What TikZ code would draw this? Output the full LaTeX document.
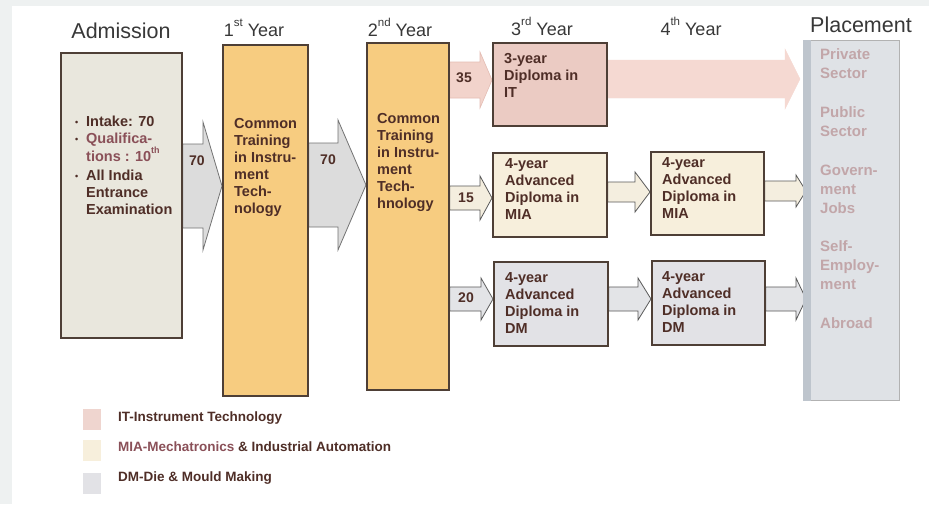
\documentclass[tikz,border=0pt]{standalone}
\usepackage{fontspec}
\setmainfont{Liberation Sans}
\usetikzlibrary{calc}

\definecolor{pageedge}{HTML}{EEF1F1}
\definecolor{boxline}{HTML}{4E3F36}
\definecolor{admfill}{HTML}{E9E7DD}
\definecolor{yearfill}{HTML}{F7CC80}
\definecolor{itfill}{HTML}{EBCBC3}
\definecolor{miafill}{HTML}{F7EFDC}
\definecolor{dmfill}{HTML}{E2E2E6}
\definecolor{plcfill}{HTML}{DFE2E6}
\definecolor{plcstrip}{HTML}{BEC5CD}
\definecolor{plcink}{HTML}{C2A6A9}
\definecolor{boxink}{HTML}{4F2E27}
\definecolor{softink}{HTML}{8A5058}
\definecolor{titleink}{HTML}{383838}
\definecolor{grayarrfill}{HTML}{DCDCDC}
\definecolor{itarrfill}{HTML}{F2D3CB}
\definecolor{itarrline}{HTML}{E4BDB4}
\definecolor{itbigfill}{HTML}{F5D9D2}
\definecolor{miaarrfill}{HTML}{F4EEDF}
\definecolor{dmarrfill}{HTML}{E3E4E7}

\pgfdeclarelayer{paper}
\pgfdeclarelayer{arrows}
\pgfsetlayers{paper,arrows,main}

% Block arrow from one anchor to another at height #4:
% #1 style, #2 start anchor, #3 tip anchor, #4 centre line,
% #5 shaft half-height, #6 head half-height, #7 head length
\newcommand\blockarrow[7]{%
  \coordinate (yc) at (0,#4);
  \draw[#1] ($(#2 |- yc)+(0,-#5)$) -- ($(#3 |- yc)+(-#7,-#5)$)
    -- ($(#3 |- yc)+(-#7,-#6)$) -- (#3 |- yc)
    -- ($(#3 |- yc)+(-#7,#6)$) -- ($(#3 |- yc)+(-#7,#5)$)
    -- ($(#2 |- yc)+(0,#5)$) -- cycle;}

\newcommand\itm{\makebox[11pt][l]{\raisebox{0.5pt}{\fontsize{9}{9}\selectfont\textbullet}}}
% raised ordinal suffix; optional argument is its size in pt
\newcommand\sups[2][9]{\raisebox{0.55em}{\fontsize{#1}{#1}\selectfont #2}}

\begin{document}
\begin{tikzpicture}[x=1pt,y=-1pt,
  box/.style={draw=boxline, line width=1.8pt, rectangle, inner sep=0pt, anchor=north west},
  boxtext/.style={font=\fontsize{14.5}{17}\selectfont\bfseries, text=boxink, align=left, anchor=west, inner sep=0pt},
  title/.style={font=\fontsize{18}{20}\selectfont, text=titleink, inner sep=0pt},
  bigtitle/.style={font=\fontsize{21.5}{24}\selectfont, text=titleink, inner sep=0pt},
  plctext/.style={font=\fontsize{15}{19}\selectfont\bfseries, text=plcink, align=left, anchor=west, inner sep=0pt},
  num/.style={font=\fontsize{14}{16}\selectfont\bfseries, text=boxink, inner sep=0pt},
  legsq/.style={rectangle, minimum width=18pt, minimum height=21pt, inner sep=0pt},
  legtext/.style={font=\fontsize{13.5}{16}\selectfont\bfseries, text=boxink, anchor=west, inner sep=0pt},
  grayarr/.style={fill=grayarrfill, draw=black!55, line width=0.8pt, line join=miter},
  itarr/.style={fill=itarrfill, draw=itarrline, line width=0.6pt},
  itbig/.style={fill=itbigfill, draw=itbigfill},
  miaarr/.style={fill=miaarrfill, draw=black!65, line width=0.8pt},
  dmarr/.style={fill=dmarrfill, draw=black!65, line width=0.8pt}
]
\useasboundingbox (0,0) rectangle (929,504);
\begin{pgfonlayer}{paper}
\fill[white] (0,0) rectangle (929,504);
\fill[pageedge] (0,0) rectangle (12,504);
\fill[pageedge] (0,0) rectangle (929,6);
\end{pgfonlayer}

% column headings
\node[bigtitle] (hadm) at (121,31) {Admission};
\node[title] (hy1) at (254,28) {1\sups[11.5]{st} Year};
\node[title] (hy2) at (400,27) {2\sups[11.5]{nd} Year};
\node[title] (hy3) at (542,26) {3\sups[11.5]{rd} Year};
\node[title] (hy4) at (691,26) {4\sups[11.5]{th} Year};
\node[bigtitle] (hplc) at (861,25) {Placement};

% boxes
\node[box, fill=admfill, minimum width=121pt, minimum height=285pt] (adm) at (60,52) {};
\node[box, fill=yearfill, minimum width=85pt, minimum height=351pt] (y1) at (222,44) {};
\node[box, fill=yearfill, minimum width=82pt, minimum height=347pt] (y2) at (366,42) {};
\node[box, fill=itfill, minimum width=114pt, minimum height=83pt] (it3) at (492,42) {};
\node[box, fill=miafill, minimum width=114pt, minimum height=84pt] (mia3) at (492,152) {};
\node[box, fill=miafill, minimum width=113pt, minimum height=83pt] (mia4) at (650,151) {};
\node[box, fill=dmfill, minimum width=114pt, minimum height=84pt] (dm3) at (493,261) {};
\node[box, fill=dmfill, minimum width=113pt, minimum height=84pt] (dm4) at (651,260) {};
\node[rectangle, anchor=north west, fill=plcfill, draw=black!30, line width=0.8pt,
      minimum width=96pt, minimum height=360pt, inner sep=0pt] (plc) at (803,40) {};
\fill[plcstrip] (plc.north west) rectangle ($(plc.south west)+(8,0)$);

\coordinate (plcend) at ($(plc.west)+(-3,0)$);
\coordinate (plcin) at ($(plc.west)+(3,0)$);

% connectors
\begin{pgfonlayer}{arrows}
\blockarrow{grayarr}{adm.east}{y1.west}{186}{42}{64}{19}
\blockarrow{grayarr}{y1.east}{y2.west}{185}{42}{65}{28}
\blockarrow{itarr}{y2.east}{it3.west}{80}{18}{28}{12}
\blockarrow{miaarr}{y2.east}{mia3.west}{198}{12}{22}{12}
\blockarrow{dmarr}{y2.east}{dm3.west}{299}{12}{21}{12}
\blockarrow{itbig}{it3.east}{plcend}{79}{19}{30}{15}
\blockarrow{miaarr}{mia3.east}{mia4.west}{192}{10}{20}{15}
\blockarrow{dmarr}{dm3.east}{dm4.west}{299}{12}{21}{13}
\blockarrow{miaarr}{mia4.east}{plcin}{191}{10}{16}{10}
\blockarrow{dmarr}{dm4.east}{plcin}{299}{12}{21}{10}
\end{pgfonlayer}

% flow numbers
\node[num] (n70a) at (197,161) {70};
\node[num] (n70b) at (328,160) {70};
\node[num] (n35) at (464,78) {35};
\node[num] (n15) at (466,198) {15};
\node[num] (n20) at (466,298) {20};

% box texts
\node[boxtext] (admtxt) at (75,165) {\itm Intake: 70\\
  \itm\textcolor{softink}{Qualifica-}\\
  \hphantom{\itm}\textcolor{softink}{tions : 10\sups{th}}\\[2pt]
  \itm All India\\
  \hphantom{\itm}Entrance\\
  \hphantom{\itm}Examination};
\node[boxtext] (y1txt) at (234,167) {Common\\Training\\in Instru-\\ment\\Tech-\\nology};
\node[boxtext] (y2txt) at (377,162) {Common\\Training\\in Instru-\\ment\\Tech-\\hnology};
\node[boxtext] (it3txt) at (504,75) {3-year\\Diploma in\\IT};
\node[boxtext] (mia3txt) at (505,189) {4-year\\Advanced\\Diploma in\\MIA};
\node[boxtext] (mia4txt) at (662,188) {4-year\\Advanced\\Diploma in\\MIA};
\node[boxtext] (dm3txt) at (505,303) {4-year\\Advanced\\Diploma in\\DM};
\node[boxtext] (dm4txt) at (662,302) {4-year\\Advanced\\Diploma in\\DM};

% placement destinations
\node[plctext] (p1) at (820,64) {Private\\Sector};
\node[plctext] (p2) at (820,122) {Public\\Sector};
\node[plctext] (p3) at (820,189) {Govern-\\ment\\Jobs};
\node[plctext] (p4) at (820,265) {Self-\\Employ-\\ment};
\node[plctext] (p5) at (820,323) {Abroad};

% legend
\node[legsq, fill=itfill!80] (lgit) at (92,419) {};
\node[legsq, fill=miafill] (lgmia) at (92,450) {};
\node[legsq, fill=dmfill] (lgdm) at (92,483) {};
\node[legtext] (lgittxt) at (118,418) {IT-Instrument Technology};
\node[legtext] (lgmiatxt) at (118,447) {\textcolor{softink}{MIA-Mechatronics} \& Industrial Automation};
\node[legtext] (lgdmtxt) at (118,478) {DM-Die \& Mould Making};
\end{tikzpicture}
\end{document}
